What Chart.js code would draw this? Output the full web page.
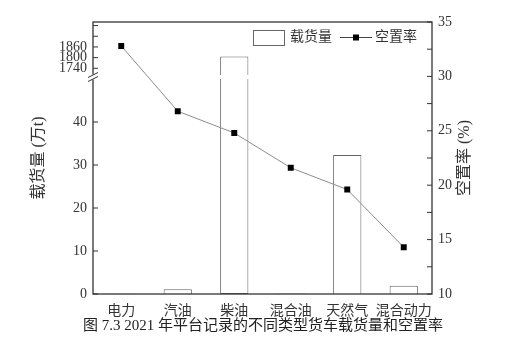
<!DOCTYPE html>
<html>
<head>
<meta charset="utf-8">
<script src="https://cdn.jsdelivr.net/npm/chart.js@4"></script>
<style>
  html, body { margin: 0; padding: 0; background: #fff; }
  #wrap { width: 526px; height: 355px; }
</style>
</head>
<body>
<div id="wrap"><canvas id="chart"></canvas></div>
<script>
const categories = ['电力', '汽油', '柴油', '混合油', '天然气', '混合动力']
const cargo = [0.05, 1.1, 1806, 0.1, 32.3, 1.9]        // 万t
const vacancy = [32.8, 26.8, 24.8, 21.6, 19.6, 14.3]   // %
const lowTicks = [0, 10, 20, 30, 40]
const highTicks = [1740, 1800, 1860]
const highMinorTicks = [1920, 1980]
const rateTicks = [10, 15, 20, 25, 30, 35]
const rateMinorTicks = [12.5, 17.5, 22.5, 27.5, 32.5]
const lowRange = [0, 50]
const highRange = [1680, 2000]
const seriesNames = ['载货量', '空置率']
const caption = '图 7.3 2021 年平台记录的不同类型货车载货量和空置率'

const FONT = "'Liberation Serif', 'Noto Sans CJK SC', serif"
const INK = '#333'

// bars above the break are split in two pieces, one per stacked axis
const lowPart = cargo.map(v => Math.min(v, lowRange[1]))
const highPart = cargo.map(v => v > lowRange[1] ? [highRange[0], v] : null)

const fixWidth = w => scale => { scale.width = w }
const setTicks = list => scale => { scale.ticks = list.map(value => ({ value })) }
const plain = v => String(v)
const noGrid = { display: false, drawTicks: false, tickLength: 0 }
const tickFont = { family: FONT, size: 14 }

const decor = {
  id: 'decor',
  afterDatasetsDraw(chart) {
    const { ctx, chartArea: a } = chart
    const low = chart.scales.yLow, high = chart.scales.yHigh, rate = chart.scales.y2
    ctx.save()
    ctx.strokeStyle = INK
    ctx.lineWidth = 1.3
    ctx.strokeRect(a.left, a.top, a.right - a.left, a.bottom - a.top)

    // inward ticks
    ctx.lineWidth = 1
    ctx.beginPath()
    lowTicks.forEach(v => { let y = low.getPixelForValue(v); ctx.moveTo(a.left, y); ctx.lineTo(a.left + 5, y) })
    highTicks.concat(highMinorTicks).forEach(v => { let y = high.getPixelForValue(v); ctx.moveTo(a.left, y); ctx.lineTo(a.left + 5, y) })
    rateTicks.concat(rateMinorTicks).forEach(v => { let y = rate.getPixelForValue(v); ctx.moveTo(a.right, y); ctx.lineTo(a.right - 5, y) })
    ctx.stroke()

    // axis break
    const yb = high.bottom - 2
    ctx.fillStyle = '#fff'
    ctx.fillRect(a.left - 6, yb - 2.5, 12, 5)
    chart.getDatasetMeta(0).data.forEach((bar, i) => {
      if (cargo[i] > lowRange[1]) ctx.fillRect(bar.x - bar.width / 2 - 2, yb - 2, bar.width + 4, 4)
    })
    ctx.strokeStyle = INK
    ctx.lineWidth = 1
    ctx.beginPath()
    ctx.moveTo(a.left - 5, yb + 0.5); ctx.lineTo(a.left + 5, yb - 4.5)
    ctx.moveTo(a.left - 5, yb + 4.5); ctx.lineTo(a.left + 5, yb - 0.5)
    ctx.stroke()

    // legend inside the top right corner
    const ly = a.top + 15.5
    let lx = a.right - 179
    ctx.strokeStyle = '#666'
    ctx.strokeRect(lx + 0.5, a.top + 8.5, 31, 15)
    ctx.fillStyle = INK
    ctx.font = '14px ' + FONT
    ctx.textAlign = 'left'
    ctx.textBaseline = 'middle'
    ctx.fillText(seriesNames[0], lx + 37, ly)
    lx = a.right - 92
    ctx.strokeStyle = '#444'
    ctx.beginPath(); ctx.moveTo(lx, ly); ctx.lineTo(lx + 32, ly); ctx.stroke()
    ctx.fillStyle = '#000'
    ctx.fillRect(lx + 13, ly - 3, 6, 6)
    ctx.fillStyle = INK
    ctx.fillText(seriesNames[1], lx + 35, ly)

    // axis titles, both read bottom to top
    ctx.font = '16px ' + FONT
    ctx.textAlign = 'center'
    const midY = (a.top + a.bottom) / 2
    ctx.save(); ctx.translate(39, midY); ctx.rotate(-Math.PI / 2); ctx.fillText('载货量 (万t)', 0, 0); ctx.restore()
    ctx.save(); ctx.translate(465, midY); ctx.rotate(-Math.PI / 2); ctx.fillText('空置率 (%)', 0, 0); ctx.restore()
    ctx.restore()
  }
}

const ctx = document.getElementById('chart')
new Chart(ctx, {
  data: {
    labels: categories,
    datasets: [
      {
        type: 'bar', label: seriesNames[0], data: lowPart, yAxisID: 'yLow', order: 2,
        backgroundColor: '#fff', borderColor: '#666', borderWidth: 1, grouped: false,
        categoryPercentage: 1, barPercentage: 0.5,
        borderSkipped: c => cargo[c.dataIndex] > lowRange[1] ? 'top' : 'bottom'
      },
      {
        type: 'bar', label: seriesNames[0], data: highPart, yAxisID: 'yHigh', order: 2,
        backgroundColor: '#fff', borderColor: '#666', borderWidth: 1, grouped: false,
        categoryPercentage: 1, barPercentage: 0.5, borderSkipped: 'bottom'
      },
      {
        type: 'line', label: seriesNames[1], data: vacancy, yAxisID: 'y2', order: 0,
        borderColor: '#8c8c8c', borderWidth: 1, pointStyle: 'rect', pointRadius: 4.2,
        pointBackgroundColor: '#000', pointBorderColor: '#000', pointBorderWidth: 0
      }
    ]
  },
  options: {
    responsive: true,
    maintainAspectRatio: false,
    animation: false,
    layout: { padding: { top: 22, left: 0, right: 0, bottom: 0 } },
    scales: {
      x: {
        type: 'category', offset: true,
        grid: noGrid, border: { display: false },
        ticks: { font: tickFont, color: INK, padding: 9, maxRotation: 0, minRotation: 0, autoSkip: false },
        afterFit: scale => { scale.height = 23 }
      },
      yLow: {
        type: 'linear', position: 'left', stack: 'left', stackWeight: 215,
        min: lowRange[0], max: lowRange[1],
        grid: noGrid, border: { display: false },
        ticks: { font: tickFont, color: INK, padding: 6, callback: plain, autoSkip: false },
        afterBuildTicks: setTicks(lowTicks), afterFit: fixWidth(93)
      },
      yHigh: {
        type: 'linear', position: 'left', stack: 'left', stackWeight: 57,
        min: highRange[0], max: highRange[1],
        grid: noGrid, border: { display: false },
        ticks: { font: tickFont, color: INK, padding: 6, callback: plain, autoSkip: false },
        afterBuildTicks: setTicks(highTicks), afterFit: fixWidth(93)
      },
      y2: {
        type: 'linear', position: 'right',
        min: rateTicks[0], max: rateTicks[rateTicks.length - 1],
        grid: noGrid, border: { display: false },
        ticks: { font: tickFont, color: INK, padding: 6, callback: plain, autoSkip: false },
        afterBuildTicks: setTicks(rateTicks), afterFit: fixWidth(94)
      }
    },
    plugins: {
      tooltip: { enabled: false },
      legend: { display: false },
      title: {
        display: true, position: 'bottom', text: caption,
        font: { family: FONT, size: 15, weight: 'normal' }, color: '#222',
        padding: { top: 0, bottom: 20 }
      }
    }
  },
  plugins: [decor]
})
</script>
</body>
</html>
